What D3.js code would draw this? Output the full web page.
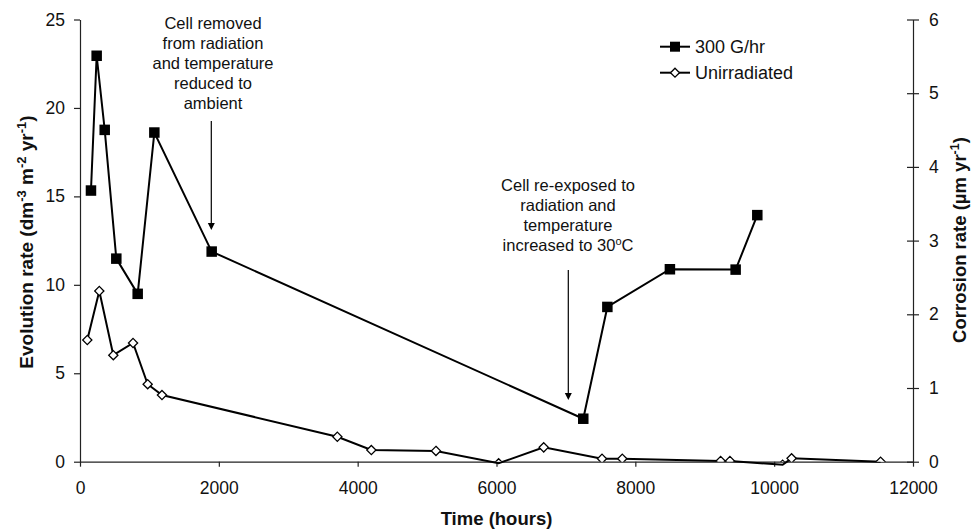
<!DOCTYPE html>
<html><head><meta charset="utf-8">
<script src="https://cdn.jsdelivr.net/npm/d3@7"></script>
<style>body{margin:0;background:#fff}svg{display:block}text{font-family:"Liberation Sans",Arial,Helvetica,sans-serif}</style>
</head><body>
<script>
const irrTime = [158, 240, 356, 523, 831, 1071, 1897, 7250, 7597, 8498, 9445, 9757];
const irrRate = [15.33, 22.95, 18.76, 11.48, 9.49, 18.61, 11.88, 2.43, 8.75, 10.88, 10.86, 13.94];
const unTime = [105, 278, 480, 764, 975, 1181, 3707, 4197, 5128, 6031, 6680, 7520, 7812, 9229, 9363, 10122, 10251, 11533];
const unRate = [6.88, 9.65, 6.02, 6.71, 4.38, 3.77, 1.41, 0.66, 0.61, -0.09, 0.81, 0.17, 0.17, 0.04, 0.04, -0.17, 0.19, 0.0];
const xTicks = [0, 2000, 4000, 6000, 8000, 10000, 12000];
const yTicks = [0, 5, 10, 15, 20, 25];
const y2Ticks = [0, 1, 2, 3, 4, 5, 6];
const seriesNames = ["300 G/hr", "Unirradiated"];

const W = 971, H = 530;
const L = 80, R = 913, T = 19.5, B = 461.7;
const svg = d3.select("body").append("svg").attr("width", W).attr("height", H);
const x = d3.scaleLinear().domain([0, 12000]).range([L, R]);
const y = d3.scaleLinear().domain([0, 25]).range([B, T]);
const y2 = d3.scaleLinear().domain([0, 6]).range([B, T]);

svg.append("defs").append("clipPath").attr("id", "plot")
  .append("rect").attr("x", L).attr("y", 0).attr("width", R - L).attr("height", B - 0);

// axes
const fs = "17.5px";
const fmt = d3.format("d");
const gx = svg.append("g").attr("transform", `translate(0,${B})`)
  .call(d3.axisBottom(x).tickValues(xTicks).tickFormat(fmt).tickSize(5).tickPadding(15).tickSizeOuter(0));
const gy = svg.append("g").attr("transform", `translate(${L},0)`)
  .call(d3.axisLeft(y).tickValues(yTicks).tickFormat(fmt).tickSize(6).tickPadding(9).tickSizeOuter(0));
const gy2 = svg.append("g").attr("transform", `translate(${R},0)`)
  .call(d3.axisRight(y2).tickValues(y2Ticks).tickFormat(fmt).tickSize(6).tickPadding(10).tickSizeOuter(0));
gy2.selectAll(".tick line").attr("x1", -6).attr("x2", 6);
[gx, gy, gy2].forEach(g => {
  g.selectAll("text").style("font-size", fs).attr("fill", "#111");
  g.selectAll("line,path").attr("stroke", "#222").attr("stroke-width", 1.2);
});

// lines
const line = d3.line().x(d => x(d[0])).y(d => y(d[1]));
const irr = irrTime.map((t, i) => [t, irrRate[i]]);
const un = unTime.map((t, i) => [t, unRate[i]]);
svg.append("path").datum(un).attr("d", line).attr("fill", "none").attr("stroke", "#000").attr("stroke-width", 2);
svg.append("path").datum(irr).attr("d", line).attr("fill", "none").attr("stroke", "#000").attr("stroke-width", 2);

const mk = svg.append("g").attr("clip-path", "url(#plot)");
const dsz = 4.6;
mk.selectAll(".dia").data(un).enter().append("path")
  .attr("d", d => `M${x(d[0])},${y(d[1]) - dsz}L${x(d[0]) + dsz},${y(d[1])}L${x(d[0])},${y(d[1]) + dsz}L${x(d[0]) - dsz},${y(d[1])}Z`)
  .attr("fill", "#fff").attr("stroke", "#000").attr("stroke-width", 1.3);
const sq = 10.5;
svg.selectAll(".sq").data(irr).enter().append("rect")
  .attr("x", d => x(d[0]) - sq / 2).attr("y", d => y(d[1]) - sq / 2)
  .attr("width", sq).attr("height", sq).attr("fill", "#000");

// legend
const lg = svg.append("g");
[46.7, 72.7].forEach((ly, i) => {
  lg.append("line").attr("x1", 660).attr("x2", 690).attr("y1", ly).attr("y2", ly).attr("stroke", "#000").attr("stroke-width", 2);
  if (i === 0) lg.append("rect").attr("x", 675 - 5).attr("y", ly - 5).attr("width", 10).attr("height", 10).attr("fill", "#000");
  else lg.append("path").attr("d", `M675,${ly - 4.5}L679.5,${ly}L675,${ly + 4.5}L670.5,${ly}Z`).attr("fill", "#fff").attr("stroke", "#000").attr("stroke-width", 1.3);
  lg.append("text").attr("x", 695).attr("y", ly + 6.5).style("font-size", "18px").attr("fill", "#111").text(seriesNames[i]);
});

// annotations
function multiline(lines, cx, y0, dy) {
  const t = svg.append("text").attr("text-anchor", "middle").style("font-size", "16.5px").attr("fill", "#111");
  lines.forEach((l, i) => {
    const ts = t.append("tspan").attr("x", cx).attr("y", y0 + i * dy);
    if (Array.isArray(l)) {
      l.forEach(p => {
        if (typeof p === "string") ts.append("tspan").text(p);
        else ts.append("tspan").attr("baseline-shift", "super").style("font-size", "11px").text(p.sup);
      });
    } else ts.text(l);
  });
}
multiline(["Cell removed", "from radiation", "and temperature", "reduced to", "ambient"], 213, 29, 20);
multiline(["Cell re-exposed to", "radiation and", "temperature", ["increased to 30", {sup: "o"}, "C"]], 568, 191, 20);

function arrow(ax, y1, y2v) {
  svg.append("line").attr("x1", ax).attr("x2", ax).attr("y1", y1).attr("y2", y2v - 6).attr("stroke", "#000").attr("stroke-width", 1.2);
  svg.append("path").attr("d", `M${ax - 3.5},${y2v - 7}L${ax + 3.5},${y2v - 7}L${ax},${y2v}Z`).attr("fill", "#000");
}
arrow(211.3, 121, 230);
arrow(568.3, 270, 400);

// axis titles
svg.append("text").attr("x", (L + R) / 2).attr("y", 525).attr("text-anchor", "middle")
  .style("font-size", "18.5px").style("font-weight", "bold").attr("fill", "#111").text("Time (hours)");
function supTitle(parts, tx, ty, size, supSize) {
  const t = svg.append("text").attr("transform", `translate(${tx},${ty}) rotate(-90)`).attr("text-anchor", "middle")
    .style("font-size", size).style("font-weight", "bold").attr("fill", "#111");
  parts.forEach(p => {
    if (typeof p === "string") t.append("tspan").text(p);
    else t.append("tspan").attr("baseline-shift", "super").style("font-size", supSize).text(p.sup);
  });
}
supTitle(["Evolution rate (dm", {sup: "-3"}, " m", {sup: "-2"}, " yr", {sup: "-1"}, ")"], 33, 242, "19px", "13px");
supTitle(["Corrosion rate (\u00b5m yr", {sup: "-1"}, ")"], 966, 240, "18.5px", "12.5px");
</script>
</body></html>
